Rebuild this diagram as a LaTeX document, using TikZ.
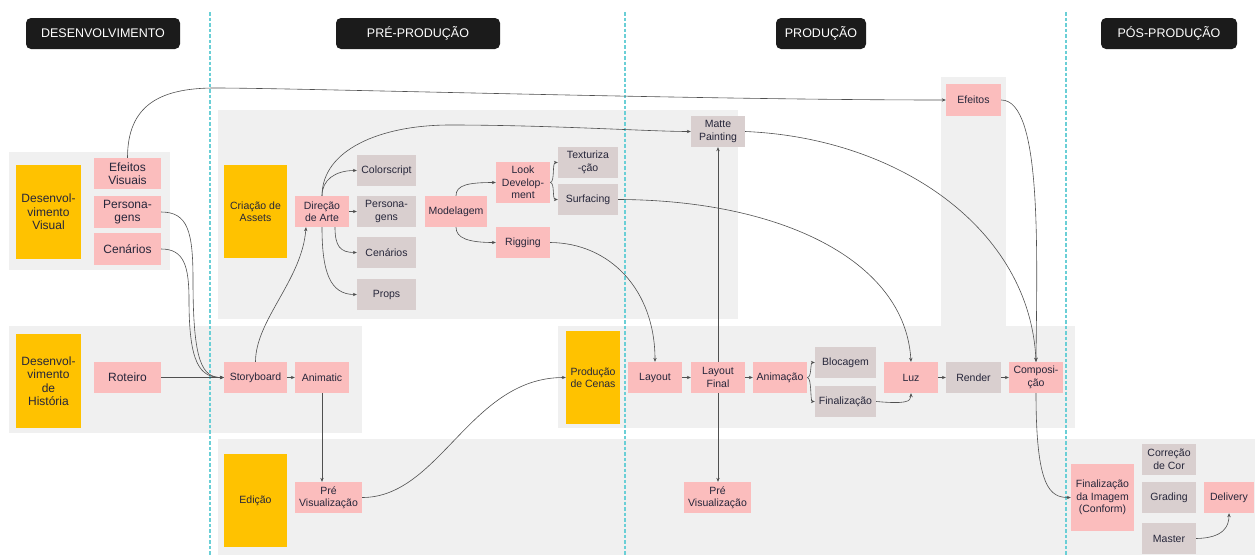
\documentclass[tikz,border=0pt]{standalone}
\usepackage{fontspec}
\setmainfont{Liberation Sans}
\usetikzlibrary{arrows.meta}
\definecolor{ybox}{HTML}{FFC200}
\definecolor{pbox}{HTML}{FBBDBD}
\definecolor{gbox}{HTML}{D9CFCF}
\definecolor{panel}{HTML}{F0F0F0}
\definecolor{ink}{HTML}{26263A}
\definecolor{wirecol}{HTML}{505050}
\definecolor{guide}{HTML}{6ACFD6}
\definecolor{hdr}{HTML}{1B1B1B}

\begin{document}
\begin{tikzpicture}[x=1pt,y=-1pt,
  box/.style={inner sep=0pt, align=center, text=ink, font=\fontsize{10.5}{12.5}\selectfont},
  ybx/.style={box, fill=ybox},
  pbx/.style={box, fill=pbox},
  gbx/.style={box, fill=gbox},
  devtext/.style={font=\fontsize{12}{13.5}\selectfont},
  hdrbox/.style={fill=hdr, rounded corners=5pt, text=white, font=\fontsize{12.5}{14}\selectfont, inner sep=0pt, minimum height=31pt},
  wire/.style={draw=wirecol, line width=0.6pt, -{Stealth[length=4pt,width=3.4pt]}},
  guideline/.style={draw=guide, line width=1.1pt, dash pattern=on 3.5pt off 2pt}
]
\useasboundingbox (0,0) rectangle (1255,555);

% background panels
\fill[panel] (9,152) rectangle (170,270);
\fill[panel] (218,110) rectangle (738,319);
\fill[panel] (9,326) rectangle (362,433);
\fill[panel] (218,439) rectangle (1255,555);
\fill[panel] (558,326) rectangle (1075,428);
\fill[panel] (941,77) rectangle (1006,327);

% phase separators
\draw[guideline] (210,12) -- (210,555);
\draw[guideline] (625,12) -- (625,555);
\draw[guideline] (1066,12) -- (1066,555);

% phase headers
\node[hdrbox, minimum width=154pt] (h1) at (103,33.5) {DESENVOLVIMENTO};
\node[hdrbox, minimum width=164pt] (h2) at (418,33.5) {PRÉ-PRODUÇÃO};
\node[hdrbox, minimum width=90pt] (h3) at (821,33.5) {PRODUÇÃO};
\node[hdrbox, minimum width=136pt] (h4) at (1169,33.5) {PÓS-PRODUÇÃO};

% group boxes
\node[ybx, devtext, minimum width=65pt, minimum height=94pt] (devvis) at (48.5,212) {Desenvol-\\vimento\\Visual};
\node[ybx, devtext, minimum width=65pt, minimum height=94pt] (devhist) at (48.5,381) {Desenvol-\\vimento\\de\\História};
\node[ybx, minimum width=63pt, minimum height=93pt] (assets) at (255.5,211.5) {Criação de\\Assets};
\node[ybx, minimum width=63pt, minimum height=93pt] (edicao) at (255.5,500.5) {Edição};
\node[ybx, minimum width=54pt, minimum height=93pt] (cenas) at (593,377.5) {Produção\\de Cenas};

% development
\node[pbx, devtext, minimum width=67pt, minimum height=31pt] (efvis) at (127.5,173.5) {Efeitos\\Visuais};
\node[pbx, devtext, minimum width=67pt, minimum height=32pt] (persdev) at (127.5,212) {Persona-\\gens};
\node[pbx, devtext, minimum width=67pt, minimum height=32pt] (cendev) at (127.5,249) {Cenários};
\node[pbx, devtext, minimum width=67pt, minimum height=31pt] (roteiro) at (127.5,377.5) {Roteiro};

% pre-production
\node[pbx, minimum width=63pt, minimum height=31pt] (story) at (255.5,377.5) {Storyboard};
\node[pbx, minimum width=54pt, minimum height=31pt] (animatic) at (322,377.5) {Animatic};
\node[pbx, minimum width=67pt, minimum height=31pt] (previsA) at (328.5,497.5) {Pré\\Visualização};
\node[pbx, minimum width=54pt, minimum height=31pt] (direcao) at (322,211.5) {Direção\\de Arte};
\node[gbx, minimum width=59pt, minimum height=31pt] (colorscript) at (386.5,170.5) {Colorscript};
\node[gbx, minimum width=59pt, minimum height=31pt] (persart) at (386.5,211.5) {Persona-\\gens};
\node[gbx, minimum width=59pt, minimum height=31pt] (cenart) at (386.5,252.5) {Cenários};
\node[gbx, minimum width=59pt, minimum height=31pt] (props) at (386.5,294.5) {Props};
\node[pbx, minimum width=62pt, minimum height=31pt] (modelagem) at (456,211.5) {Modelagem};
\node[pbx, minimum width=54pt, minimum height=41pt] (lookdev) at (523,182.5) {Look\\Develop-\\ment};
\node[pbx, minimum width=54pt, minimum height=31pt] (rigging) at (523,242.5) {Rigging};
\node[gbx, minimum width=60pt, minimum height=31pt] (textur) at (588,162.5) {Texturiza\\-ção};
\node[gbx, minimum width=60pt, minimum height=31pt] (surfacing) at (588,199.5) {Surfacing};

% production
\node[gbx, minimum width=54pt, minimum height=31pt] (matte) at (718,131.5) {Matte\\Painting};
\node[pbx, minimum width=55pt, minimum height=32pt] (efeitos) at (973.5,100) {Efeitos};
\node[pbx, minimum width=54pt, minimum height=31pt] (layout) at (655,377.5) {Layout};
\node[pbx, minimum width=54pt, minimum height=31pt] (layoutfinal) at (718,377.5) {Layout\\Final};
\node[pbx, minimum width=54pt, minimum height=31pt] (animacao) at (780,377.5) {Animação};
\node[pbx, minimum width=67pt, minimum height=31pt] (previsB) at (717.5,497.5) {Pré\\Visualização};
\node[gbx, minimum width=61pt, minimum height=31pt] (blocagem) at (845.5,362.5) {Blocagem};
\node[gbx, minimum width=61pt, minimum height=31pt] (finaliz) at (845.5,401.5) {Finalização};
\node[pbx, minimum width=54pt, minimum height=31pt] (luz) at (911,377.5) {Luz};
\node[gbx, minimum width=55pt, minimum height=31pt] (render) at (973.5,377.5) {Render};
\node[pbx, minimum width=54pt, minimum height=31pt] (compos) at (1036,377.5) {Composi-\\ção};

% post-production
\node[pbx, minimum width=63pt, minimum height=67pt] (finimg) at (1102.5,497.5) {Finalização\\da Imagem\\(Conform)};
\node[gbx, minimum width=54pt, minimum height=31pt] (correcao) at (1169,459.5) {Correção\\de Cor};
\node[gbx, minimum width=54pt, minimum height=31pt] (grading) at (1169,497.5) {Grading};
\node[gbx, minimum width=54pt, minimum height=31pt] (master) at (1169,538.5) {Master};
\node[pbx, minimum width=50pt, minimum height=31pt] (delivery) at (1229,497.5) {Delivery};

% connectors: development and pre-production
\draw[wire] (efvis.north) .. controls (127.5,105) and (160,88) .. (215,88)
  .. controls (300,88) and (700,100) .. (efeitos.west);
\draw[wire] (persdev.east) .. controls (188,212) and (193,232) .. (193,280)
  .. controls (193,362) and (202,377.5) .. (story.west);
\draw[wire] (cendev.east) .. controls (184,249) and (189,266) .. (189,300)
  .. controls (189,364) and (200,377.5) .. (story.west);
\draw[wire] (roteiro.east) -- (story.west);
\draw[wire] (story.north) .. controls (255.5,320) and (302,280) .. ([xshift=-16pt]direcao.south);
\draw[wire] (story.east) -- (animatic.west);
\draw[wire] (animatic.south) -- (animatic.south |- previsA.north);
\draw[wire] (previsA.east) .. controls (440,497.5) and (470,377.5) .. (cenas.west);

\draw[wire] (direcao.north) .. controls (322,180) and (335,170.5) .. (colorscript.west);
\draw[wire] (direcao.east) -- (persart.west);
\draw[wire] ([xshift=13pt]direcao.south) .. controls (335,246) and (340,252.5) .. (cenart.west);
\draw[wire] (direcao.south) .. controls (322,272) and (330,294.5) .. (props.west);
\draw[wire] (direcao.north) .. controls (322,150) and (380,125) .. (450,125)
  .. controls (550,125) and (650,131.5) .. (matte.west);

\draw[wire] (modelagem.north) .. controls (456,185) and (468,182.5) .. (lookdev.west);
\draw[wire] (modelagem.south) .. controls (456,238) and (468,242.5) .. (rigging.west);
\draw[wire] (lookdev.east) .. controls (555,182.5) and (552,162.5) .. (textur.west);
\draw[wire] (lookdev.east) .. controls (555,182.5) and (552,199.5) .. (surfacing.west);

% connectors: production
\draw[wire] (rigging.east) .. controls (610,243) and (655,290) .. (layout.north);
\draw[wire] (surfacing.east) .. controls (780,200) and (905,260) .. (luz.north);
\draw[wire] (matte.east) .. controls (900,138) and (1030,230) .. (compos.north);
\draw[wire] (efeitos.east) .. controls (1042,100) and (1037,250) .. (compos.north);
\draw[wire] (layoutfinal.north) -- (matte.south);
\draw[wire] (layoutfinal.south) -- (layoutfinal.south |- previsB.north);
\draw[wire] (layout.east) -- (layoutfinal.west);
\draw[wire] (layoutfinal.east) -- (animacao.west);
\draw[wire] (animacao.east) .. controls (812,377.5) and (810,362.5) .. (blocagem.west);
\draw[wire] (animacao.east) .. controls (812,377.5) and (810,401.5) .. (finaliz.west);
\draw[wire] (finaliz.east) .. controls (905,404) and (911,402) .. (luz.south);
\draw[wire] (luz.east) -- (render.west);
\draw[wire] (render.east) -- (compos.west);

% connectors: post-production
\draw[wire] (compos.south) .. controls (1036,488) and (1050,497.5) .. (finimg.west);
\draw[wire] (master.east) .. controls (1224,538) and (1229,526) .. (delivery.south);

\end{tikzpicture}
\end{document}
